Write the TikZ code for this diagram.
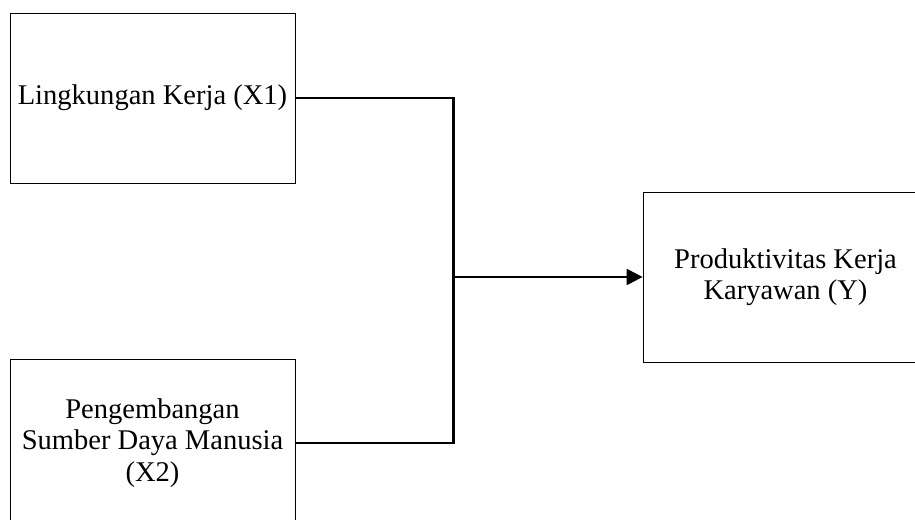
\documentclass[tikz,border=0pt]{standalone}
\usepackage{fontspec}
\setmainfont{Liberation Serif}
\usepackage{tikz}
\usetikzlibrary{arrows.meta}

\begin{document}
\begin{tikzpicture}[x=0.75pt, y=-0.75pt, box/.style={rectangle, draw=black!100, line width=0.6pt, inner sep=0pt, minimum width=213.75pt, minimum height=127.5pt, align=center, font=\fontsize{21.4}{23.5}\selectfont}, link/.style={draw=black!100, line width=1.7pt}]
						\useasboundingbox (0, 0) rectangle (915, 520);
						\node[box] (node0) at (152.5, 98) {Lingkungan Kerja (X1)};
						\node[box, minimum height=126pt] (node1) at (152.5, 443) {Pengembangan\\Sumber Daya Manusia\\(X2)};
						\node[box] (node2) at (785.5, 277) {Produktivitas Kerja\\Karyawan (Y)};
						\coordinate (node3) at (453.5, 277);
						\draw[link] (node0.east) -| (node3);
						\draw[link] (node1.east) -| (node3);
						\draw[link, -{Triangle[length=12pt, width=12pt]}] (node3) -- (node2.west);
					\end{tikzpicture}
\end{document}
